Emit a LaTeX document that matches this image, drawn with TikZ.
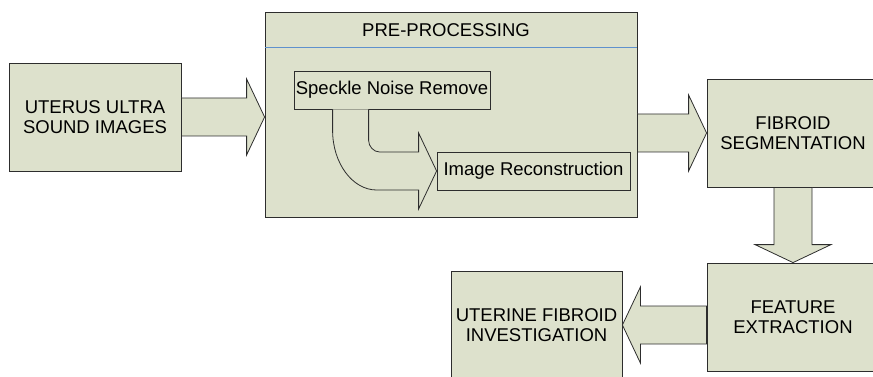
\documentclass[tikz,border=0pt]{standalone}
\usepackage{fontspec}
\setmainfont{Liberation Sans}
\usetikzlibrary{calc}

\definecolor{panel}{RGB}{221,225,204}
\definecolor{edge}{RGB}{45,45,45}
\definecolor{rulecol}{RGB}{95,145,205}

\tikzset{stage/.style={draw=edge,fill=panel,line width=0.8pt,minimum width=172pt,minimum height=108pt,inner sep=0pt,align=center},
         substage/.style={draw=edge,fill=panel,line width=0.8pt,minimum height=38pt,inner sep=0pt},
         fatbody/.style={draw=edge,fill=panel,line width=0.8pt,line join=miter}}

% block arrow from #1 to tip #2
\newcommand{\ashaft}{19pt}
\newcommand{\awing}{38pt}
\newcommand{\ahead}{18pt}
\newcommand{\fatarrow}[2]{%
  \filldraw[fatbody] ($(#1)!\ashaft!90:(#2)$)
    -- ($($(#2)!\ahead!(#1)$)!\ashaft!90:(#2)$)
    -- ($($(#2)!\ahead!(#1)$)!\awing!90:(#2)$)
    -- (#2)
    -- ($($(#2)!\ahead!(#1)$)!\awing!-90:(#2)$)
    -- ($($(#2)!\ahead!(#1)$)!\ashaft!-90:(#2)$)
    -- ($(#1)!\ashaft!-90:(#2)$) -- cycle;}

\begin{document}
\begin{tikzpicture}[x=1pt,y=-1pt,every node/.style={font=\fontsize{18.5}{20}\selectfont}]
  \useasboundingbox (0,0) rectangle (873,377);
  \clip (0,0) rectangle (873,377);

  % stages
  \node[stage] (us) at (95,117) {UTERUS ULTRA\\SOUND IMAGES};
  \node[stage,minimum width=372pt,minimum height=205pt] (prep) at (451,114.5) {};
  \node (ptitle) at (446,30) {PRE-PROCESSING};
  \draw[rulecol,line width=1pt] ($(prep.north west)+(0.5,36)$) -- ($(prep.north east)+(-0.5,36)$);
  \node[substage,minimum width=196pt] (spk) at (392,90) {Speckle Noise Remove};
  \node[substage,minimum width=193pt] (rec) at (533.5,171) {Image Reconstruction};
  \node[stage] (fib) at (793,133) {FIBROID\\SEGMENTATION};
  \node[stage] (feat) at (793,317) {FEATURE\\EXTRACTION};
  \node[stage,minimum width=171pt] (inv) at (536.5,325) {UTERINE FIBROID\\INVESTIGATION};

  % bent arrow inside pre-processing
  \coordinate (bo) at ($(spk.south west)+(39,0)$);
  \coordinate (bi) at ($(spk.south west)+(75,0)$);
  \filldraw[fatbody] (bo) -- ++(0,21) .. controls +(0,33) and +(-24,0) .. ($(rec.west)+(-60,19)$)
    -- ($(rec.west)+(-18,19)$) -- ($(rec.west)+(-18,38)$) -- (rec.west)
    -- ($(rec.west)+(-18,-38)$) -- ($(rec.west)+(-18,-19)$) -- ($(rec.west)+(-57,-19)$)
    .. controls +(-6,0) and +(0,6) .. ($(bi)+(0,31)$) -- (bi);

  % block arrows
  \fatarrow{us.east}{prep.west |- us.east}
  \fatarrow{prep.east |- fib.west}{fib.west}
  \fatarrow{fib.south}{feat.north}
  \fatarrow{feat.west |- inv.east}{inv.east}
\end{tikzpicture}
\end{document}
